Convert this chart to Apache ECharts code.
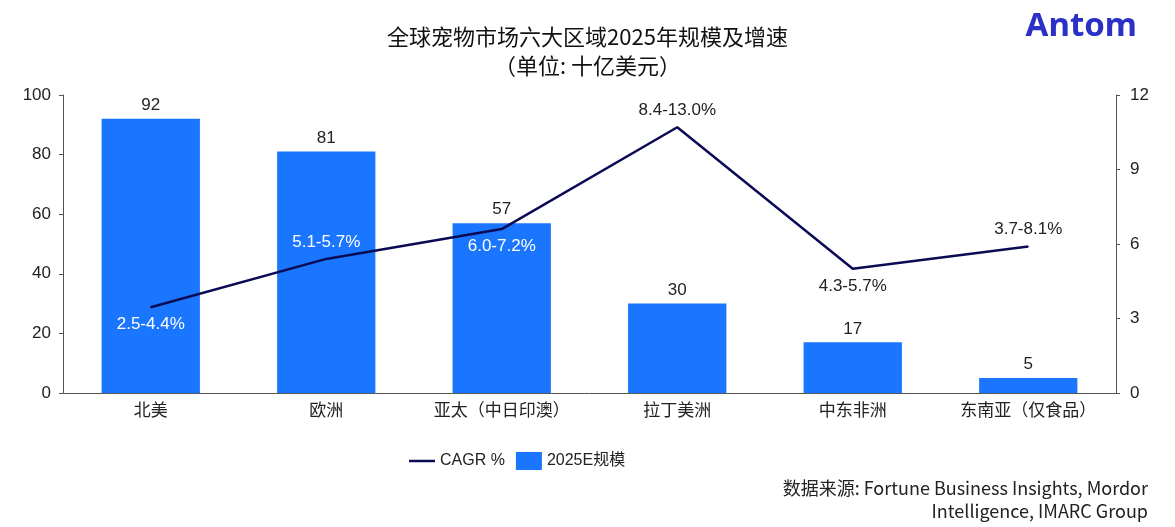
<!DOCTYPE html>
<html>
<head>
<meta charset="utf-8">
<script src="https://cdn.jsdelivr.net/npm/echarts@6/dist/echarts.min.js"></script>
<style>html,body{margin:0;padding:0;background:#fff}#c{width:1175px;height:527px}</style>
</head>
<body>
<div id="c"></div>
<script>
const categories = ['北美', '欧洲', '亚太（中日印澳）', '拉丁美洲', '中东非洲', '东南亚（仅食品）'];
const marketSize = [92, 81, 57, 30, 17, 5];
const cagrMid = [3.45, 5.4, 6.6, 10.7, 5.0, 5.9];
const cagrLabels = ['2.5-4.4%', '5.1-5.7%', '6.0-7.2%', '8.4-13.0%', '4.3-5.7%', '3.7-8.1%'];
const cagrLabelPos = ['bottom', 'top', 'bottom', 'top', 'bottom', 'top'];
const cagrLabelColor = ['#ffffff', '#ffffff', '#ffffff', '#222222', '#222222', '#222222'];
const leftTicks = [0, 20, 40, 60, 80, 100];
const rightTicks = [0, 3, 6, 9, 12];

const FONT = "'Liberation Sans', 'Noto Sans CJK SC', sans-serif";
const CJK = "'Noto Sans CJK SC', sans-serif";
const chart = echarts.init(document.getElementById('c'));
chart.setOption({
  backgroundColor: '#ffffff',
  textStyle: { fontFamily: FONT },
  animation: false,
  title: {
    text: '全球宠物市场六大区域2025年规模及增速\n（单位: 十亿美元）',
    left: 'center',
    top: 17,
    textStyle: { fontFamily: CJK, fontSize: 22, fontWeight: 'normal', color: '#111', lineHeight: 29 }
  },
  graphic: [
    { type: 'text', right: 38, top: 10, style: { text: 'Antom', fontFamily: "'Noto Sans', sans-serif", fontSize: 33, fontWeight: 'bold', fill: '#2b30c6' } },
    { type: 'text', right: 27, top: 479, style: { text: '数据来源: Fortune Business Insights, Mordor', fontFamily: CJK, fontSize: 18, fill: '#222' } },
    { type: 'text', right: 27, top: 502, style: { text: 'Intelligence, IMARC Group', fontFamily: CJK, fontSize: 18, fill: '#222' } }
  ],
  legend: {
    left: 404,
    top: 447,
    itemGap: 11,
    itemWidth: 26,
    itemHeight: 18,
    textStyle: { fontFamily: FONT, fontSize: 16, color: '#222' },
    data: [
      { name: 'CAGR %', icon: 'path://M0,0H26V2.5H0Z' },
      { name: '2025E规模', icon: 'rect' }
    ]
  },
  grid: { left: 63, right: 59, top: 95, bottom: 134 },
  xAxis: {
    type: 'category',
    data: categories,
    axisTick: { show: false },
    axisLine: { lineStyle: { color: '#555', width: 1 } },
    axisLabel: { interval: 0, fontSize: 17, color: '#222', margin: 8, fontFamily: CJK }
  },
  yAxis: [
    {
      type: 'value', min: leftTicks[0], max: leftTicks[leftTicks.length - 1], interval: 20,
      splitLine: { show: false },
      axisLine: { show: true, lineStyle: { color: '#555' } },
      axisTick: { show: true, length: 4, lineStyle: { color: '#555' } },
      axisLabel: { fontSize: 17, color: '#222', margin: 12 }
    },
    {
      type: 'value', min: rightTicks[0], max: rightTicks[rightTicks.length - 1], interval: 3,
      splitLine: { show: false },
      axisLine: { show: true, lineStyle: { color: '#555' } },
      axisTick: { show: true, length: 4, lineStyle: { color: '#555' } },
      axisLabel: { fontSize: 17, color: '#222', margin: 14 }
    }
  ],
  series: [
    {
      name: '2025E规模',
      type: 'bar',
      yAxisIndex: 0,
      barWidth: '56%',
      data: marketSize,
      itemStyle: { color: '#1a75ff' },
      label: { show: true, position: 'top', fontSize: 17, color: '#222', distance: 5 },
      z: 2
    },
    {
      name: 'CAGR %',
      type: 'line',
      yAxisIndex: 1,
      symbol: 'circle',
      symbolSize: 1,
      showSymbol: true,
      data: cagrMid.map((v, i) => ({
        value: v,
        label: { show: true, position: cagrLabelPos[i], color: cagrLabelColor[i], formatter: cagrLabels[i], fontSize: 17, distance: 8 }
      })),
      lineStyle: { color: '#0b0b55', width: 2.5 },
      itemStyle: { color: '#0b0b55' },
      z: 5
    }
  ]
});
</script>
</body>
</html>
